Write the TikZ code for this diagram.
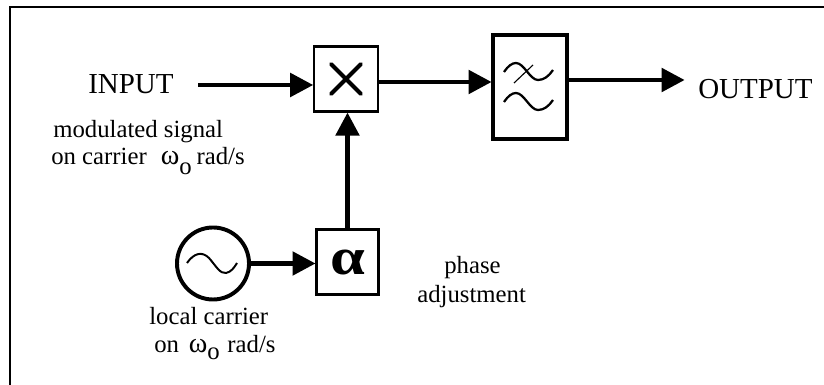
\documentclass[tikz,border=0pt]{standalone}
\usepackage{fontspec}
\setmainfont{Liberation Serif}
\usetikzlibrary{arrows.meta}
\newcommand{\omegao}[1]{{\fontsize{20}{21}\selectfont ω}\raisebox{-#1}{o}}
\tikzset{
  sig/.style={line width=3.5pt,-{Triangle[length=16.4pt,width=16.4pt]},shorten >=-0.5pt},
  blockbox/.style={draw,line width=2pt,inner sep=0pt},
  bigtext/.style={font=\fontsize{20.6}{24}\selectfont,inner sep=0pt,anchor=base west},
  smalltext/.style={font=\fontsize{17.6}{21}\selectfont,inner sep=0pt,anchor=base west}
}
\begin{document}
\begin{tikzpicture}[x=0.025cm,y=-0.025cm]
  \useasboundingbox (0,0) rectangle (824,385);
  % frame
  \draw[line width=1.5pt] (10,385) -- (10,7) -- (824,7);

  % blocks
  \node[blockbox,minimum width=1.6cm,minimum height=1.64cm] (mult) at (346,79) {};
  \node[blockbox,line width=2.9pt,minimum width=1.85cm,minimum height=2.6cm] (filter) at (530,87) {};
  \node[blockbox,minimum width=1.56cm,minimum height=1.63cm,font=\fontsize{37}{37}\selectfont\bfseries] (phase) at (347.5,262) {\scalebox{1.2}[1]{α}};
  \node[circle,draw,line width=2.8pt,minimum size=1.8cm,inner sep=0pt] (osc) at (213,263.5) {};

  % labels
  \node[bigtext] (input) at (88,94) {INPUT};
  \node[bigtext] (output) at (698,99) {OUTPUT};
  \node[smalltext] (modsig) at (53,138) {modulated signal};
  \node[smalltext] (oncarrier) at (51,165) {on carrier\hspace{10pt}\omegao{6.5pt}\hspace{3.5pt}rad/s};
  \node[smalltext] (localcarrier) at (149,325) {local carrier};
  \node[smalltext] (onlocal) at (154,353) {on\hspace{7pt}\omegao{4.5pt}\hspace{5.5pt}rad/s};
  \node[smalltext] (phaselabel) at (444,274) {phase};
  \node[smalltext] (adjlabel) at (417,303) {adjustment};

  % free ends
  \coordinate (inend) at (198,85);
  \coordinate (outend) at (684,80);
  \coordinate (multout) at (379,82);
  \coordinate (filterout) at (569,80);

  % connectors
  \draw[sig] (inend) -- (inend -| mult.west);
  \draw[sig] (multout) -- (multout -| filter.west);
  \draw[sig] (filterout) -- (outend);
  \draw[sig] (osc.east) -- (osc.east -| phase.west);
  \draw[sig] (phase.north) -- (phase.north |- mult.south);

  % cross in the multiplier
  \draw[line width=2.8pt,line cap=round] (331,64) -- (361,94);
  \draw[line width=2.8pt,line cap=round] (361,64) -- (331,94);

  % sine in the oscillator
  \draw[line width=1.4pt] (187,263) .. controls (194,253) and (202,251) .. (209,258)
    .. controls (216,266) and (220,274) .. (226,273) .. controls (231,272) and (234,268) .. (237,263);

  % filter symbol
  \foreach \yshift in {0,30}{
    \draw[line width=1.6pt,yshift=-\yshift*0.025cm] (504,72) .. controls (508,66) and (512,63) .. (516,63)
      .. controls (524,63) and (530,80) .. (538,80) .. controls (544,80) and (549,76) .. (553,70);
  }
  \draw[line width=0.8pt] (514,83) -- (533,65);
\end{tikzpicture}
\end{document}
